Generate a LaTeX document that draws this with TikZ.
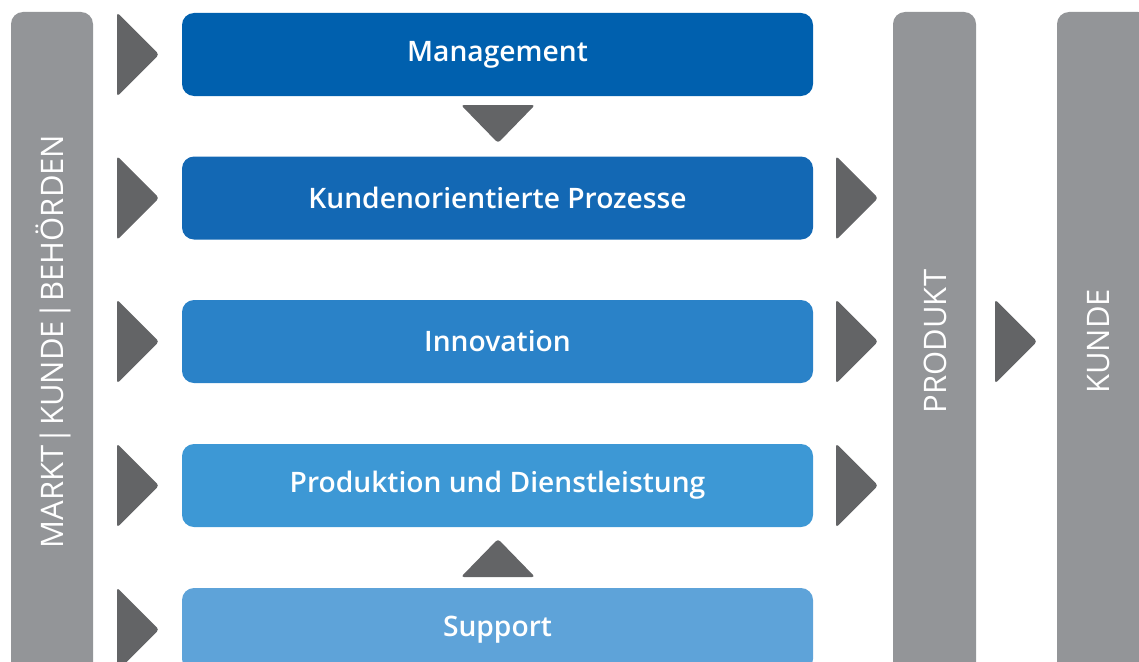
\documentclass[tikz,border=0pt]{standalone}
\usepackage{fontspec}
\IfFontExistsTF{Open Sans Semibold}
  {\setmainfont{Open Sans}[BoldFont={Open Sans Semibold}]}
  {\setmainfont{Open Sans}}
\definecolor{mgmtblue}{HTML}{0060AE}
\definecolor{kundblue}{HTML}{1368B4}
\definecolor{innoblue}{HTML}{2A82C8}
\definecolor{prodblue}{HTML}{3D98D5}
\definecolor{suppblue}{HTML}{5EA3D9}
\definecolor{bargray}{HTML}{939598}
\definecolor{arrowgray}{HTML}{636466}
\tikzset{
  procbox/.style={rounded corners=12pt,minimum width=631pt,minimum height=83pt,
    inner sep=0pt,text=white,font=\fontsize{28.2}{30}\selectfont\bfseries},
  bartext/.style={rotate=90,text=white,font=\fontsize{31}{33}\selectfont},
  tri/.style={fill=arrowgray,rounded corners=3pt}
}
\begin{document}
\begin{tikzpicture}[x=1pt,y=-1pt]
\useasboundingbox (0,0) rectangle (1139,661);
\fill[bargray,rounded corners=12pt](11,12)rectangle(93,700);
\fill[bargray,rounded corners=12pt](893,12)rectangle(976,700);
\fill[bargray,rounded corners=12pt](1057,12)rectangle(1150,700);
\node[bartext] (markt) at (53,341.5) {MARKT\hspace{.04em}|\hspace{.04em}KUNDE\hspace{.04em}|\hspace{.04em}BEHÖRDEN};
\node[bartext] (produkt) at (935.5,341.5) {PRODUKT};
\node[bartext] (kunde) at (1099,341.5) {KUNDE};
\node[procbox,fill=mgmtblue] (mgmt) at (497.5,54.5) {Management};
\node[procbox,fill=kundblue] (kund) at (497.5,198) {Kundenorientierte Prozesse};
\node[procbox,fill=innoblue] (inno) at (497.5,341.5) {Innovation};
\node[procbox,fill=prodblue] (prod) at (497.5,485.5) {Produktion und Dienstleistung};
\node[procbox,fill=suppblue] (supp) at (497.5,629.5) {Support};
\foreach \y in {54.5,198,341.5,485.5,629.5}
  \fill[tri](117,\y-42)--(159,\y)--(117,\y+42)--cycle;
\foreach \y in {198,341.5,485.5}
  \fill[tri](836,\y-42)--(878,\y)--(836,\y+42)--cycle;
\fill[tri](995,299.5)--(1037,341.5)--(995,383.5)--cycle;
\fill[tri](461,105)--(535,105)--(498,143)--cycle;
\fill[tri](461,577)--(535,577)--(498,539)--cycle;
\end{tikzpicture}
\end{document}
